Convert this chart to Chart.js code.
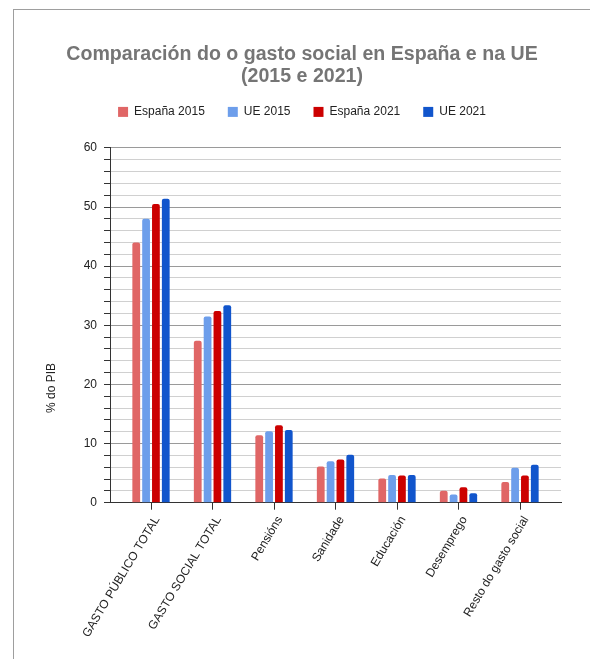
<!DOCTYPE html>
<html>
<head>
<meta charset="utf-8">
<script src="https://cdn.jsdelivr.net/npm/chart.js@4/dist/chart.umd.min.js"></script>
<style>
  body { margin: 0; background: #fff; overflow: hidden; }
  #frame {
    position: absolute; left: 13px; top: 9px; right: 0; bottom: 0;
    border-left: 1px solid #9e9e9e; border-top: 1px solid #9e9e9e;
  }
  #wrap { position: absolute; left: 14px; top: 0; width: 576px; height: 659px; }
</style>
</head>
<body>
<div id="frame"></div>
<div id="wrap"><canvas id="chart"></canvas></div>
<script>
const categories = [
  "GASTO PÚBLICO TOTAL",
  "GASTO SOCIAL TOTAL",
  "Pensións",
  "Sanidade",
  "Educación",
  "Desemprego",
  "Resto do gasto social",
];

const espana2015 = [44.0, 27.4, 11.4, 6.1, 4.1, 2.0, 3.5];
const ue2015 = [48.0, 31.5, 12.1, 7.0, 4.7, 1.4, 5.9];
const espana2021 = [50.5, 32.4, 13.1, 7.3, 4.6, 2.6, 4.6];
const ue2021 = [51.4, 33.4, 12.3, 8.1, 4.7, 1.6, 6.4];

const FONT = "'Liberation Sans', Arial, sans-serif";

/* ---------------- HELPERS ---------------- */

function toPoints(values) {
  return values.map((v, i) => ({ x: i, y: v }));
}

function makeDataset(label, values, color) {
  return {
    label: label,
    data: toPoints(values),
    backgroundColor: color,
    borderColor: color,
    borderWidth: 0,
    borderRadius: 2,
    categoryPercentage: 0.64,
    barPercentage: 0.79,
  };
}

// extra room under the legend
const legendGap = {
  id: "legendGap",
  beforeInit(chart) {
    const fit = chart.legend.fit;
    chart.legend.fit = function () {
      fit.bind(chart.legend)();
      this.height += 20;
    };
  },
};

// y axis title, placed like the original
const yTitle = {
  id: "yTitle",
  afterDraw(chart) {
    const ctx = chart.ctx;
    ctx.save();
    ctx.translate(38, 388);
    ctx.rotate(-Math.PI / 2);
    ctx.font = "12px " + FONT;
    ctx.fillStyle = "#222";
    ctx.textAlign = "center";
    ctx.textBaseline = "middle";
    ctx.fillText("% do PIB", 0, 0);
    ctx.restore();
  },
};

/* ---------------- CHART ---------------- */

new Chart(document.getElementById("chart"), {
  type: "bar",
  data: {
    datasets: [
      makeDataset("España 2015", espana2015, "#e06666"),
      makeDataset("UE 2015", ue2015, "#6d9eeb"),
      makeDataset("España 2021", espana2021, "#cc0000"),
      makeDataset("UE 2021", ue2021, "#1155cc"),
    ],
  },
  options: {
    responsive: true,
    maintainAspectRatio: false,
    animation: false,
    layout: { padding: { left: 29, right: 29, top: 0, bottom: 15 } },
    plugins: {
      title: {
        display: true,
        text: ["Comparación do o gasto social en España e na UE", "(2015 e 2021)"],
        color: "#757575",
        font: { family: FONT, size: 19.6, weight: "bold", lineHeight: 1.12 },
        padding: { top: 44, bottom: -5 },
      },
      legend: {
        labels: {
          color: "#222",
          font: { family: FONT, size: 12 },
          boxWidth: 10,
          boxHeight: 10,
          padding: 23,
        },
      },
      tooltip: { enabled: false },
    },
    scales: {
      x: {
        type: "linear",
        offset: false,
        min: -2 / 3,
        max: categories.length - 1 + 2 / 3,
        grid: {
          offset: false,
          drawOnChartArea: false,
          drawTicks: true,
          tickLength: 7,
          tickColor: "#333",
        },
        border: { color: "#333" },
        ticks: {
          stepSize: 1,
          includeBounds: false,
          autoSkip: false,
          minRotation: 59,
          maxRotation: 59,
          labelOffset: 6,
          padding: 4,
          color: "#222",
          font: { family: FONT, size: 12 },
          callback: (v) => categories[v] ?? "",
        },
      },
      y: {
        min: 0,
        max: 60,
        afterFit(scale) {
          scale.width = 67;
        },
        grid: {
          color: (c) => (c.tick && c.tick.value % 10 === 0 ? "#9a9a9a" : "#d0d0d0"),
          tickColor: "#333",
          tickLength: 6,
        },
        border: { color: "#333" },
        ticks: {
          stepSize: 2,
          autoSkip: false,
          padding: 7,
          color: "#222",
          font: { family: FONT, size: 12 },
          callback: (v) => (v % 10 === 0 ? v : ""),
        },
      },
    },
  },
  plugins: [legendGap, yTitle],
});
</script>
</body>
</html>
